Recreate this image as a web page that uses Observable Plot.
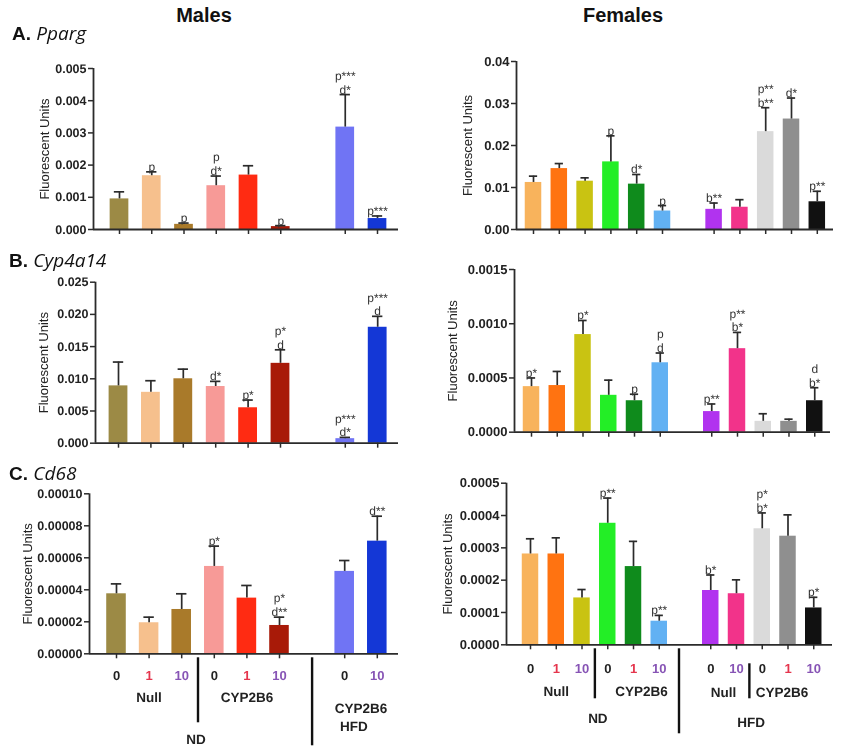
<!DOCTYPE html>
<html><head><meta charset="utf-8">
<script src="https://cdn.jsdelivr.net/npm/d3@7"></script>
<script src="https://cdn.jsdelivr.net/npm/@observablehq/plot@0.6"></script>
<style>
body{margin:0;background:#fff;}
#fig{position:relative;width:842px;height:750px;overflow:hidden;font-family:"Liberation Sans",Arial,sans-serif;color:#111;}
.ttl{position:absolute;font-weight:bold;font-size:20px;transform:translate(-50%,-50%);white-space:nowrap;}
.pl{position:absolute;font-size:19px;transform:translateY(-50%);white-space:nowrap;}
.pl b{font-weight:bold}
.pl i{font-style:italic;font-family:"Open Sans","Liberation Sans",sans-serif;}
.panel{position:absolute;will-change:transform;}
svg text{text-rendering:geometricPrecision;}
</style></head><body><div id="fig"></div>
<script>
// ---------- data ----------
const maleDose = ["0","1","10","0","1","10","0","10"];
const femaleDose = ["0","1","10","0","1","10","0","10","0","1","10"];
const maleGenotype = ["Null","CYP2B6","CYP2B6"];
const maleGenotypeSize = [3,3,2];
const femaleGenotype = ["Null","CYP2B6","Null","CYP2B6"];
const femaleGenotypeSize = [3,3,2,3];
const dietLabels = ["ND","HFD"];
const maleDietSize = [6,2];
const femaleDietSize = [6,5];

// Males
const malePpargMean = [0.00095,0.00167,0.00016,0.00136,0.00169,0.00009,0.00318,0.00034];
const malePpargSem  = [0.00022,0.00012,0.00004,0.00030,0.00029,0.00003,0.00101,0.00008];
const malePpargSig  = ["","p","p","p\nd*","","p","p***\nd*","p***"];
const maleCypMean = [0.0089,0.0079,0.0100,0.0088,0.0055,0.0124,0.0007,0.0180];
const maleCypSem  = [0.0037,0.0018,0.0015,0.0008,0.0012,0.0021,0.0002,0.0017];
const maleCypSig  = ["","","","d*","p*","p*\nd","p***\nd*","p***\nd"];
const maleCd68Mean = [0.0000375,0.0000194,0.0000277,0.0000546,0.0000348,0.0000177,0.0000515,0.0000704];
const maleCd68Sem  = [0.0000062,0.0000035,0.0000098,0.0000127,0.0000079,0.0000052,0.0000068,0.0000156];
const maleCd68Sig  = ["","","","p*","","p*\nd**","","d**"];

// Females
const femPpargMean = [0.0112,0.0145,0.0115,0.0161,0.0108,0.0044,0.0048,0.0053,0.0233,0.0263,0.0066];
const femPpargSem  = [0.0015,0.0012,0.0008,0.0062,0.0023,0.0013,0.0015,0.0018,0.0057,0.0050,0.0025];
const femPpargSig  = ["","","","p","d*","p","b**","","p**\nb**","d*","p**"];
const femCypMean = [0.00042,0.00043,0.00090,0.00034,0.00029,0.00064,0.00019,0.00077,0.00010,0.00010,0.00029];
const femCypSem  = [0.00008,0.00013,0.00013,0.00014,0.00006,0.00009,0.00007,0.00015,0.00007,0.00002,0.00012];
const femCypSig  = ["p*","","p*","","p","p\nd","p**","p**\nb*","","","d\nb*"];
const femCd68Mean = [0.000281,0.000281,0.000145,0.000376,0.000242,0.000073,0.000168,0.000158,0.000359,0.000336,0.000114];
const femCd68Sem  = [0.000047,0.000050,0.000026,0.000078,0.000078,0.000018,0.000048,0.000043,0.000049,0.000066,0.000033];
const femCd68Sig  = ["","","","p**","","p**","b*","","p*\nb*","","p*"];

// tick values
const maleTicksA = [0,0.001,0.002,0.003,0.004,0.005];
const maleTicksB = [0,0.005,0.010,0.015,0.020,0.025];
const maleTicksC = [0,0.00002,0.00004,0.00006,0.00008,0.0001];
const femTicksA = [0,0.01,0.02,0.03,0.04];
const femTicksB = [0,0.0005,0.0010,0.0015];
const femTicksC = [0,0.0001,0.0002,0.0003,0.0004,0.0005];

// ---------- styles ----------
const maleColors = ["#9c8a45","#f6c08d","#a97a2a","#f79a97","#ff2b12","#a81a08","#7074f4","#1437d6"];
const femColors  = ["#f8b35c","#ff7311","#c9c312","#23ee26","#0f8b1c","#62b1f3","#b133ef","#f2338a","#dadada","#8f8f8f","#111111"];
const doseColor = {"0":"#222","1":"#e5354d","10":"#8754b5"};
const ink = "#2b2b2b";

const fig = document.getElementById("fig");
const slot = i => (i < 6 ? i : i + 1);

function groupCenters(sizes) {
  let s = 0;
  return sizes.map(n => { const c = (slot(s) + slot(s + n - 1)) / 2; s += n; return c; });
}
function groupBounds(sizes) {
  let s = 0; const out = [];
  sizes.forEach((n, k) => { s += n; if (k < sizes.length - 1) out.push((slot(s - 1) + slot(s)) / 2); });
  return out;
}

function drawPanel(c) {
  const marginLeft = c.axisX - c.left, marginRight = c.left + c.width - c.axisRight;
  const marginTop = c.topPx - c.top, marginBottom = c.bottom;
  const height = c.basePx - c.top + c.bottom;
  const xDomain = [(c.axisX - c.c0) / c.step, (c.axisRight - c.c0) / c.step];
  const {mean, sem, sig, colors} = c;
  const idx = d3.range(mean.length);
  const marks = [
    Plot.rectY(idx, {x1: i => slot(i) - c.hb, x2: i => slot(i) + c.hb, y1: 0, y2: i => mean[i], fill: i => colors[i]}),
    Plot.ruleX(idx, {x: i => slot(i), y1: i => mean[i], y2: i => mean[i] + sem[i], stroke: ink, strokeWidth: 1.7}),
    Plot.ruleY(idx, {y: i => mean[i] + sem[i], x1: i => slot(i) - 0.16, x2: i => slot(i) + 0.16, stroke: ink, strokeWidth: 1.7}),
    Plot.text(idx.filter(i => sig[i]), {x: i => slot(i), y: i => mean[i] + sem[i], text: i => sig[i], lineAnchor: "bottom", dy: -1, fontSize: 12, fill: "#333", stroke: "none", lineHeight: 1.15}),
    Plot.ruleY([0], {stroke: ink, strokeWidth: 1.8}),
    Plot.ruleX([xDomain[0]], {stroke: ink, strokeWidth: 1.8}),
    Plot.axisY({ticks: c.yTicks, tickFormat: d3.format(c.yFmt), tickSize: 5, tickPadding: 2, fontSize: c.tickFont, fontWeight: "bold", fill: "#222", stroke: ink, strokeWidth: 1.5, label: null}),
    Plot.ruleX(idx, {x: i => slot(i), y1: 0, y2: 0, insetBottom: -5, stroke: ink, strokeWidth: 1.5}),
    Plot.text(["Fluorescent Units"], {frameAnchor: "left", textAnchor: "middle", lineAnchor: "middle", rotate: -90, dx: -c.labelOffset, text: d => d, fontSize: 13, fill: "#222"})
  ];
  if (c.lab) {
    const L = c.lab;
    marks.push(Plot.text(idx, {x: i => slot(i), y: 0, text: i => L.dose[i], dy: L.doseDy, fill: i => doseColor[L.dose[i]], fontWeight: "bold", fontSize: 13}));
    const gc = groupCenters(L.gSizes);
    L.gLabels.forEach((t, k) => marks.push(Plot.text([t], {x: () => gc[k], y: () => 0, text: d => d, dy: L.gDy[k], dx: L.gDx[k], fontWeight: "bold", fontSize: 13.5, fill: "#222"})));
    const dc = groupCenters(L.dSizes);
    dietLabels.forEach((t, k) => marks.push(Plot.text([t], {x: () => dc[k], y: () => 0, text: d => d, dy: L.dDy[k], dx: L.dDx[k], fontWeight: "bold", fontSize: 13.5, fill: "#222"})));
    const seps = groupBounds(L.gSizes);
    const dsep = groupBounds(L.dSizes)[0];
    L.sep.forEach(s => {
      const xs = s.diet ? dsep : seps[s.k];
      marks.push(Plot.ruleX([xs], {x: d => d, y1: () => 0, y2: () => 0, insetTop: s.from, insetBottom: -s.to, dx: s.dx || 0, stroke: "#111", strokeWidth: 2.4}));
    });
  }
  const svg = Plot.plot({
    width: c.width, height, marginLeft, marginRight, marginTop, marginBottom,
    x: {type: "linear", domain: xDomain, axis: null},
    y: {domain: [0, c.yTicks[c.yTicks.length - 1]]},
    color: {type: "identity"},
    style: {background: "transparent", overflow: "visible", fontFamily: "'Liberation Sans', Arial, sans-serif", color: "#222"},
    marks
  });
  svg.classList.add("panel");
  svg.style.left = c.left + "px";
  svg.style.top = c.top + "px";
  fig.appendChild(svg);
}

const maleLab = {
  dose: maleDose, doseDy: 22,
  gLabels: maleGenotype, gSizes: maleGenotypeSize, gDy: [44,44,55], gDx: [0,0,0],
  dSizes: maleDietSize, dDy: [86,73], dDx: [-2,-7],
  sep: [{k: 0, from: 4, to: 69}, {diet: true, from: 4, to: 92}]
};
const femLab = {
  dose: femaleDose, doseDy: 24,
  gLabels: femaleGenotype, gSizes: femaleGenotypeSize, gDy: [47,47,48,48], gDx: [0,8,0,-6],
  dSizes: femaleDietSize, dDy: [74,78], dDx: [3,-11],
  sep: [{k: 0, from: 4, to: 54}, {diet: true, from: 4, to: 89, dx: -6}, {k: 2, from: 19, to: 54}]
};

// Males
drawPanel({left: 0, top: 40, width: 420, axisX: 93, axisRight: 398, c0: 119, step: 32.25, topPx: 68, basePx: 229, bottom: 14,
  mean: malePpargMean, sem: malePpargSem, sig: malePpargSig, colors: maleColors, yTicks: maleTicksA, yFmt: ".3f", hb: 0.29, labelOffset: 49, tickFont: 12.5});
drawPanel({left: 0, top: 250, width: 420, axisX: 95, axisRight: 398, c0: 118, step: 32.4, topPx: 281.7, basePx: 442.7, bottom: 14,
  mean: maleCypMean, sem: maleCypSem, sig: maleCypSig, colors: maleColors, yTicks: maleTicksB, yFmt: ".3f", hb: 0.29, labelOffset: 52, tickFont: 12.5});
drawPanel({left: 0, top: 470, width: 420, axisX: 89, axisRight: 398, c0: 116, step: 32.6, topPx: 493.3, basePx: 653.3, bottom: 96,
  mean: maleCd68Mean, sem: maleCd68Sem, sig: maleCd68Sig, colors: maleColors, yTicks: maleTicksC, yFmt: ".5f", hb: 0.3, labelOffset: 62, tickFont: 12.5, lab: maleLab});
// Females
drawPanel({left: 420, top: 40, width: 422, axisX: 516, axisRight: 833, c0: 533, step: 25.8, topPx: 61, basePx: 229, bottom: 14,
  mean: femPpargMean, sem: femPpargSem, sig: femPpargSig, colors: femColors, yTicks: femTicksA, yFmt: ".2f", hb: 0.32, labelOffset: 49, tickFont: 13});
drawPanel({left: 420, top: 250, width: 422, axisX: 514, axisRight: 830, c0: 531, step: 25.75, topPx: 269, basePx: 431.7, bottom: 14,
  mean: femCypMean, sem: femCypSem, sig: femCypSig, colors: femColors, yTicks: femTicksB, yFmt: ".4f", hb: 0.32, labelOffset: 62, tickFont: 13});
drawPanel({left: 420, top: 460, width: 422, axisX: 506, axisRight: 832, c0: 530, step: 25.75, topPx: 482.7, basePx: 644.3, bottom: 100,
  mean: femCd68Mean, sem: femCd68Sem, sig: femCd68Sig, colors: femColors, yTicks: femTicksC, yFmt: ".4f", hb: 0.32, labelOffset: 59, tickFont: 13, lab: femLab});

// Titles
function addDiv(cls, html, x, y) {
  const d = document.createElement("div");
  d.className = cls; d.innerHTML = html;
  d.style.left = x + "px"; d.style.top = y + "px";
  fig.appendChild(d);
}
addDiv("ttl", "Males", 204, 15);
addDiv("ttl", "Females", 623, 15);
addDiv("pl", "<b>A.</b> <i>Pparg</i>", 12, 33);
addDiv("pl", "<b>B.</b> <i>Cyp4a14</i>", 9, 260);
addDiv("pl", "<b>C.</b> <i>Cd68</i>", 9, 473);
</script>
</body></html>
